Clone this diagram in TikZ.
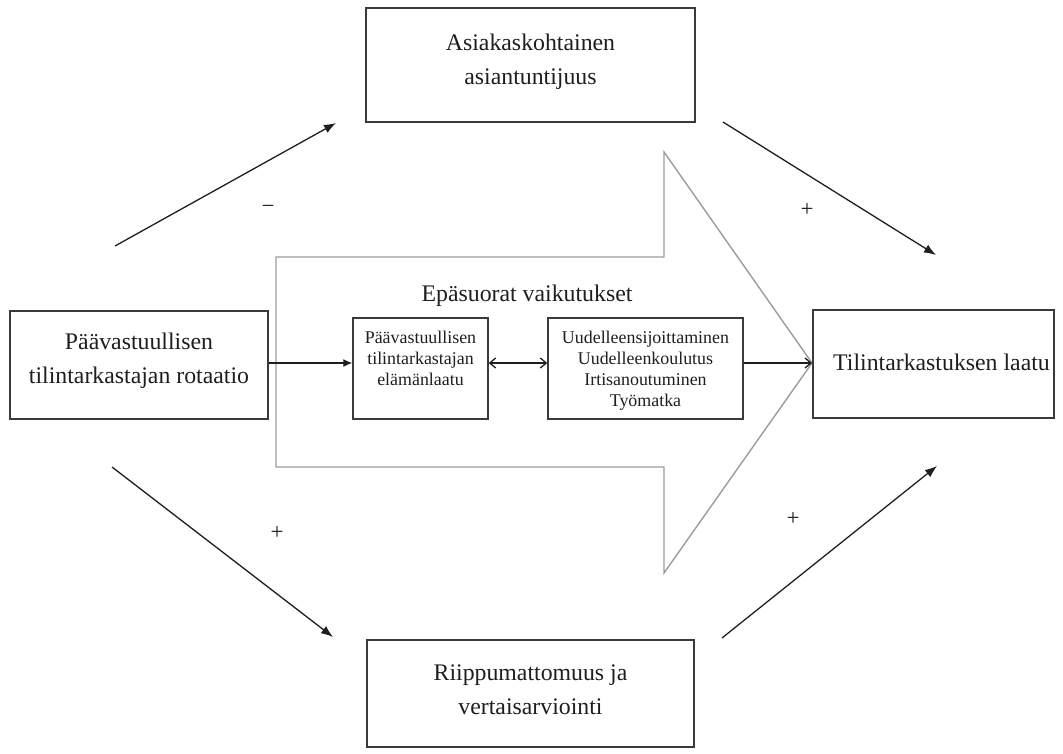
\documentclass[tikz,border=0pt]{standalone}
\usepackage{fontspec}
\setmainfont{Liberation Serif}
\usetikzlibrary{arrows.meta}
\definecolor{boxc}{HTML}{3A3A3A}
\definecolor{arrc}{HTML}{9C9C9C}
\definecolor{txtc}{HTML}{1E1E1E}
\begin{document}
\begin{tikzpicture}[x=1pt,y=-1pt,
  box/.style={draw=boxc, line width=1.4pt, inner sep=0pt},
  maintxt/.style={text=txtc, inner sep=0pt, align=center,
    font=\fontsize{23.8}{34}\selectfont},
  smalltxt/.style={text=txtc, inner sep=0pt, align=center, anchor=north,
    font=\fontsize{17.9}{21}\selectfont},
  signtxt/.style={text=txtc, inner sep=0pt, font=\fontsize{23}{26}\selectfont},
  bigarrow/.style={draw=arrc, line width=1.4pt, line join=miter},
  diag/.style={draw=txtc, line width=1.3pt, -{Latex[length=12pt,width=9pt]}},
  conn/.style={draw=txtc, line width=1.3pt}
]
\useasboundingbox (0,0) rectangle (1063,753);

% big background arrow
\coordinate (tip) at (812,363);
\draw[bigarrow] (276,257) -- (664,257) -- (664,152) -- (tip) -- (664,573) -- (664,467) -- (276,467) -- cycle;

% main boxes
\node[box, minimum width=329pt, minimum height=114pt] (top) at (530.5,65) {};
\node[box, minimum width=258pt, minimum height=108pt] (lb) at (139,365) {};
\node[box, minimum width=241pt, minimum height=108pt] (rb) at (933.5,364) {};
\node[box, minimum width=327pt, minimum height=107pt] (bot) at (530.5,693.5) {};

\node[maintxt] (toptxt) at ([yshift=3pt]top.center) {Asiakaskohtainen\\asiantuntijuus};
\node[maintxt] (lbtxt) at ([yshift=4pt]lb.center) {Päävastuullisen\\tilintarkastajan rotaatio};
\node[maintxt] (rbtxt) at ([xshift=8pt,yshift=2pt]rb.center) {Tilintarkastuksen laatu};
\node[maintxt] (bottxt) at ([yshift=4pt]bot.center) {Riippumattomuus ja\\vertaisarviointi};

% inner boxes
\node[box, minimum width=135pt, minimum height=101pt] (in1) at (420.5,368.5) {};
\node[box, minimum width=195pt, minimum height=101pt] (in2) at (645.5,368.5) {};
\node[smalltxt] (in1txt) at (420.5,331) {Päävastuullisen\\tilintarkastajan\\elämänlaatu};
\node[smalltxt] (in2txt) at (645.5,331) {Uudelleensijoittaminen\\Uudelleenkoulutus\\Irtisanoutuminen\\Työmatka};

\node[maintxt] (epa) at (527,296) {Epäsuorat vaikutukset};

% horizontal connectors
\draw[conn, -{Latex[length=9pt,width=8pt]}] (lb.east |- tip) -- (in1.west |- tip);
\draw[conn, {Straight Barb[length=6pt,width=10pt]}-{Straight Barb[length=6pt,width=10pt]}] (in1.east |- tip) -- (in2.west |- tip);
\draw[conn, -{Straight Barb[length=6pt,width=10pt]}] (in2.east |- tip) -- (tip);

% diagonal arrows
\coordinate (ulA) at (115,246);
\coordinate (ulB) at (336,123);
\coordinate (urA) at (723,122);
\coordinate (urB) at (936,255);
\coordinate (llA) at (112,467);
\coordinate (llB) at (333,637);
\coordinate (lrA) at (722,638);
\coordinate (lrB) at (937,466);
\draw[diag] (ulA) -- (ulB);
\draw[diag] (urA) -- (urB);
\draw[diag] (llA) -- (llB);
\draw[diag] (lrA) -- (lrB);

% signs
\node[signtxt] (s1) at (268,209) {−};
\node[signtxt] (s2) at (807,210) {+};
\node[signtxt] (s3) at (277,533) {+};
\node[signtxt] (s4) at (793,519) {+};
\end{tikzpicture}
\end{document}
